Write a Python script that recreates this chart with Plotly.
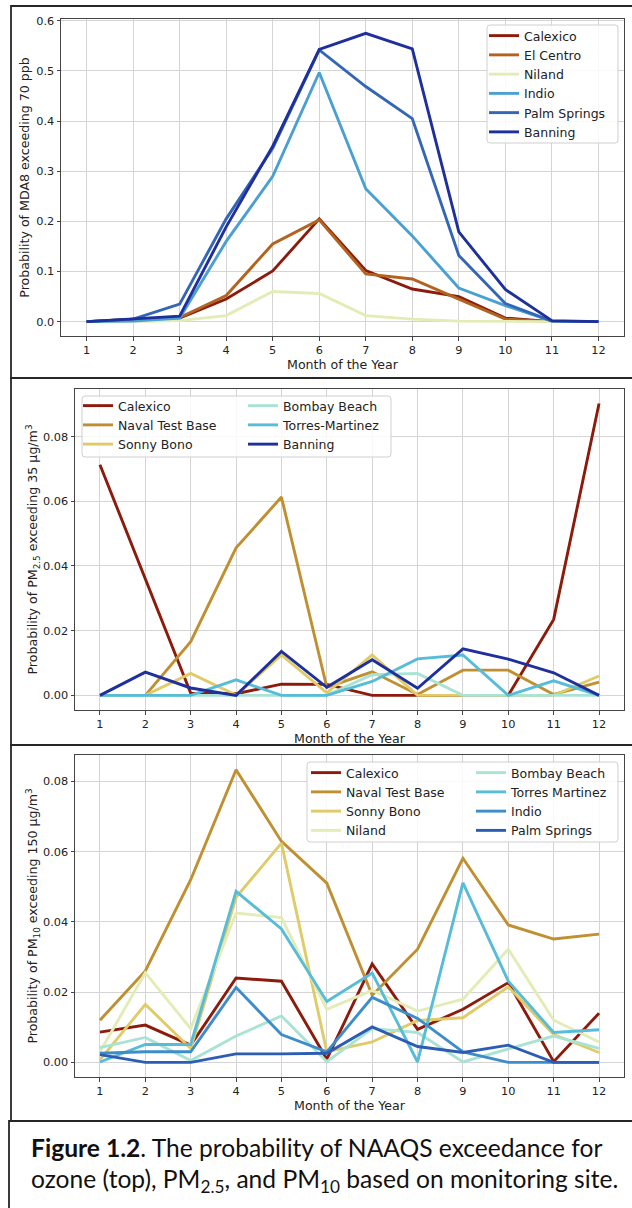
import plotly.graph_objects as go

W, H = 632, 1208
months = list(range(1, 13))

# ---- Ozone: probability of MDA8 exceeding 70 ppb ----
o3_sites = ["Calexico", "El Centro", "Niland", "Indio", "Palm Springs", "Banning"]
o3_calexico = [0.0, 0.005, 0.007, 0.045, 0.101, 0.205, 0.102, 0.065, 0.050, 0.007, 0.0, 0.0]
o3_el_centro = [0.0, 0.003, 0.008, 0.052, 0.155, 0.203, 0.095, 0.085, 0.045, 0.005, 0.0, 0.0]
o3_niland = [0.0, 0.0, 0.002, 0.012, 0.060, 0.056, 0.012, 0.005, 0.001, 0.0, 0.0, 0.0]
o3_indio = [0.0, 0.001, 0.007, 0.160, 0.290, 0.497, 0.265, 0.171, 0.067, 0.032, 0.001, 0.0]
o3_palm_springs = [0.0, 0.005, 0.035, 0.205, 0.346, 0.542, 0.469, 0.405, 0.132, 0.036, 0.001, 0.0]
o3_banning = [0.0, 0.005, 0.011, 0.189, 0.350, 0.543, 0.575, 0.544, 0.179, 0.064, 0.002, 0.0]
o3_values = [o3_calexico, o3_el_centro, o3_niland, o3_indio, o3_palm_springs, o3_banning]

# ---- PM2.5: probability of exceeding 35 ug/m3 ----
pm25_sites = ["Calexico", "Naval Test Base", "Sonny Bono", "Bombay Beach", "Torres-Martinez", "Banning"]
pm25_calexico = [0.0713, 0.0361, 0.0007, 0.0005, 0.0035, 0.0034, 0.0, 0.0, 0.0, 0.0, 0.0235, 0.0902]
pm25_naval = [0.0, 0.0, 0.0166, 0.0456, 0.0613, 0.0025, 0.0073, 0.0003, 0.0078, 0.0078, 0.0003, 0.0041]
pm25_sonny_bono = [0.0, 0.0, 0.0068, 0.0001, 0.0125, 0.0008, 0.0125, 0.0, 0.0, 0.0, 0.0, 0.006]
pm25_bombay = [0.0, 0.0, 0.0, 0.0, 0.0, 0.0, 0.0064, 0.0068, 0.0, 0.0, 0.0, 0.0]
pm25_torres = [0.0, 0.0, 0.0, 0.0048, 0.0, 0.0, 0.0043, 0.0113, 0.0125, 0.0, 0.0045, 0.0]
pm25_banning = [0.0, 0.0072, 0.0023, 0.0, 0.0136, 0.0025, 0.011, 0.0022, 0.0144, 0.0112, 0.007, 0.0]
pm25_values = [pm25_calexico, pm25_naval, pm25_sonny_bono, pm25_bombay, pm25_torres, pm25_banning]

# ---- PM10: probability of exceeding 150 ug/m3 ----
pm10_sites = ["Calexico", "Naval Test Base", "Sonny Bono", "Niland",
              "Bombay Beach", "Torres Martinez", "Indio", "Palm Springs"]
pm10_calexico = [0.0086, 0.0106, 0.0049, 0.024, 0.0231, 0.0009, 0.028, 0.0094, 0.0151, 0.0227, 0.0002, 0.014]
pm10_naval = [0.012, 0.026, 0.052, 0.0833, 0.0629, 0.051, 0.0191, 0.0322, 0.0581, 0.0391, 0.0351, 0.0365]
pm10_sonny_bono = [0.0007, 0.0165, 0.0039, 0.047, 0.0624, 0.003, 0.0058, 0.0119, 0.0127, 0.0215, 0.0079, 0.0028]
pm10_niland = [0.003, 0.0255, 0.0096, 0.0425, 0.0412, 0.0151, 0.0205, 0.0146, 0.018, 0.0322, 0.012, 0.0058]
pm10_bombay = [0.0042, 0.0071, 0.0005, 0.0075, 0.0132, 0.0002, 0.0096, 0.0085, 0.0001, 0.0037, 0.0075, 0.004]
pm10_torres = [0.0001, 0.0051, 0.0051, 0.0487, 0.038, 0.0173, 0.0254, 0.0001, 0.0511, 0.0231, 0.0085, 0.0093]
pm10_indio = [0.0026, 0.003, 0.003, 0.0213, 0.0079, 0.003, 0.0185, 0.0125, 0.003, 0.0, 0.0, 0.0]
pm10_palm_springs = [0.0022, 0.0, 0.0, 0.0024, 0.0024, 0.0026, 0.0101, 0.0045, 0.0028, 0.0049, 0.0, 0.0]
pm10_values = [pm10_calexico, pm10_naval, pm10_sonny_bono, pm10_niland,
               pm10_bombay, pm10_torres, pm10_indio, pm10_palm_springs]

site_colors = {
    "Calexico": "#8c1b0c",
    "El Centro": "#b2631f",
    "Niland": "#e3ecb6",
    "Naval Test Base": "#c08f30",
    "Sonny Bono": "#e0cb68",
    "Bombay Beach": "#a9e3d3",
    "Torres-Martinez": "#57bcd8",
    "Torres Martinez": "#57bcd8",
    "Banning": "#1f2f9c",
}
o3_colors = {"Indio": "#4a9fd3", "Palm Springs": "#3466b7"}
pm10_colors = {"Indio": "#3d8dca", "Palm Springs": "#2c5cb4"}

month_ticks = [str(m) for m in months]

TXT = "DejaVu Sans"
TICK_FONT = dict(family=TXT, size=11.3, color="#222")
TITLE_FONT = dict(family=TXT, size=12.6, color="#222")
LEG_FONT = dict(family=TXT, size=12.5, color="#222")


def px_x(p):
    return p / W


def px_y(p):
    return 1 - p / H


fig = go.Figure()

# legend name -> sites listed in it
legend_of = {}
for s in o3_sites:
    legend_of[("o3", s)] = "legend"
for s in ["Calexico", "Naval Test Base", "Sonny Bono"]:
    legend_of[("pm25", s)] = "legend2"
for s in ["Bombay Beach", "Torres-Martinez", "Banning"]:
    legend_of[("pm25", s)] = "legend3"
for s in ["Calexico", "Naval Test Base", "Sonny Bono", "Niland"]:
    legend_of[("pm10", s)] = "legend4"
for s in ["Bombay Beach", "Torres Martinez", "Indio", "Palm Springs"]:
    legend_of[("pm10", s)] = "legend5"

panels = [
    ("o3", o3_sites, o3_values, "x", "y", o3_colors),
    ("pm25", pm25_sites, pm25_values, "x2", "y2", {}),
    ("pm10", pm10_sites, pm10_values, "x3", "y3", pm10_colors),
]
for key, sites, values, xa, ya, extra in panels:
    for site, vals in zip(sites, values):
        color = extra.get(site, site_colors.get(site))
        fig.add_trace(go.Scatter(
            x=months, y=vals, mode="lines", name=site,
            line=dict(color=color, width=2.9),
            xaxis=xa, yaxis=ya,
            legend=legend_of[(key, site)],
            hoverinfo="skip",
        ))

# plot-area rectangles in pixels: (left, top, right, bottom)
areas = {
    "1": (61, 19, 624, 336),
    "2": (75, 389, 624, 710),
    "3": (75, 755, 624, 1077),
}

common_x = dict(
    tickmode="array", tickvals=months, ticktext=month_ticks,
    range=[0.45, 12.55], showgrid=True, gridcolor="#d4d4d4", gridwidth=1,
    zeroline=False, showline=True, linecolor="#444", linewidth=1, mirror=True,
    ticks="outside", ticklen=3.5, tickcolor="#444", tickfont=TICK_FONT,
    automargin=False, fixedrange=True,
)
common_y = dict(
    showgrid=True, gridcolor="#d4d4d4", gridwidth=1,
    zeroline=False, showline=True, linecolor="#444", linewidth=1, mirror=True,
    ticks="outside", ticklen=3.5, tickcolor="#444", tickfont=TICK_FONT,
    automargin=False, fixedrange=True,
)

y_specs = {
    "1": dict(range=[-0.0287, 0.6037], tickvals=[0, 0.1, 0.2, 0.3, 0.4, 0.5, 0.6],
              tickformat=".1f", title="Probability of MDA8 exceeding 70 ppb", standoff=3),
    "2": dict(range=[-0.00451, 0.0947], tickvals=[0, 0.02, 0.04, 0.06, 0.08],
              tickformat=".2f",
              title="Probability of PM<sub>2.5</sub> exceeding 35 μg/m<sup>3</sup>", standoff=2),
    "3": dict(range=[-0.00417, 0.0875], tickvals=[0, 0.02, 0.04, 0.06, 0.08],
              tickformat=".2f",
              title="Probability of PM<sub>10</sub> exceeding 150 μg/m<sup>3</sup>", standoff=2),
}

layout_axes = {}
for k, (l, t, r, b) in areas.items():
    xname = "xaxis" if k == "1" else f"xaxis{k}"
    yname = "yaxis" if k == "1" else f"yaxis{k}"
    ax_anchor = "y" if k == "1" else f"y{k}"
    ay_anchor = "x" if k == "1" else f"x{k}"
    spec = y_specs[k]
    layout_axes[xname] = dict(
        common_x, domain=[px_x(l), px_x(r)], anchor=ax_anchor,
        title=dict(text="Month of the Year", font=TITLE_FONT, standoff=0),
    )
    layout_axes[yname] = dict(
        common_y, domain=[px_y(b), px_y(t)], anchor=ay_anchor,
        range=spec["range"], tickmode="array", tickvals=spec["tickvals"],
        tickformat=spec["tickformat"],
        title=dict(text=spec["title"], font=TITLE_FONT, standoff=spec["standoff"]),
    )


def legend_at(left, top):
    return dict(
        x=px_x(left), y=px_y(top), xanchor="left", yanchor="top",
        bgcolor="rgba(0,0,0,0)", borderwidth=0, font=LEG_FONT,
        traceorder="normal", itemclick=False, itemdoubleclick=False,
    )


def rounded_box(l, t, r, b, rad=3):
    x = px_x
    y = px_y
    return (
        f"M {x(l + rad)} {y(t)} L {x(r - rad)} {y(t)} "
        f"Q {x(r)} {y(t)} {x(r)} {y(t + rad)} L {x(r)} {y(b - rad)} "
        f"Q {x(r)} {y(b)} {x(r - rad)} {y(b)} L {x(l + rad)} {y(b)} "
        f"Q {x(l)} {y(b)} {x(l)} {y(b - rad)} L {x(l)} {y(t + rad)} "
        f"Q {x(l)} {y(t)} {x(l + rad)} {y(t)} Z"
    )


shapes = []
# legend frames (semi-opaque white, light grey edge)
for box in [(487, 25, 618, 143), (82, 396, 391, 457), (307, 762, 618, 842)]:
    shapes.append(dict(
        type="path", xref="paper", yref="paper", path=rounded_box(*box),
        fillcolor="rgba(255,255,255,0.85)", line=dict(color="#cfcfcf", width=1),
        layer="above",
    ))
# panel frames around each chart and the caption
for (l, t, r, b) in [(11, 6, 650, 378), (11, 378, 650, 745), (11, 745, 650, 1121),
                     (9, 1121, 650, 1230)]:
    shapes.append(dict(
        type="rect", xref="paper", yref="paper",
        x0=px_x(l), x1=px_x(r), y0=px_y(b), y1=px_y(t),
        line=dict(color="#262626", width=1.8), fillcolor="rgba(0,0,0,0)",
        layer="above",
    ))

CAP_FONT = dict(family="Lato", size=24.6, color="#111")
caption_lines = [
    "<b>Figure 1.2</b>. The probability of NAAQS exceedance for",
    "ozone (top), PM<sub>2.5</sub>, and PM<sub>10</sub> based on monitoring site.",
]
annotations = []
for i, line in enumerate(caption_lines):
    annotations.append(dict(
        text=line, xref="paper", yref="paper", x=px_x(29), y=px_y(1147 + 33 * i),
        xanchor="left", yanchor="middle", showarrow=False, font=CAP_FONT, align="left",
    ))

fig.update_layout(
    width=W, height=H,
    margin=dict(l=0, r=0, t=0, b=0),
    paper_bgcolor="white", plot_bgcolor="white",
    font=dict(family=TXT, color="#222"),
    showlegend=True,
    legend=legend_at(484, 21),
    legend2=legend_at(78, 391),
    legend3=legend_at(243, 391),
    legend4=legend_at(306, 758),
    legend5=legend_at(471, 758),
    shapes=shapes,
    annotations=annotations,
    **layout_axes,
)

fig.write_html("out.html")
